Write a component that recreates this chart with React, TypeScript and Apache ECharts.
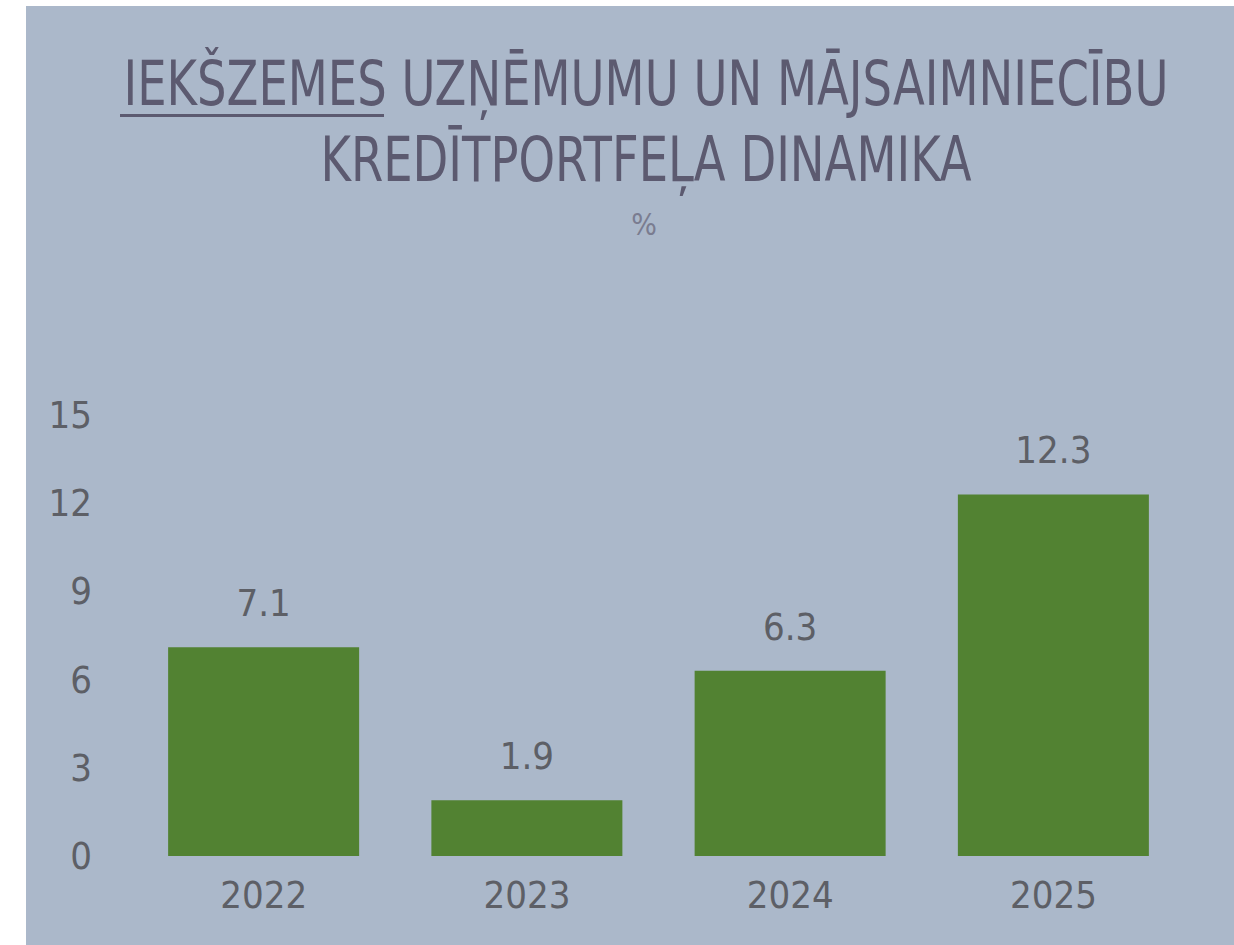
import React, { useEffect, useRef } from "react";
import * as echarts from "echarts";

const years = ["2022", "2023", "2024", "2025"];
const growth = [7.1, 1.9, 6.3, 12.3];
const titleLine1 = "IEKŠZEMES UZŅĒMUMU UN MĀJSAIMNIECĪBU";
const titleLine2 = "KREDĪTPORTFEĻA DINAMIKA";
const unitLabel = "%";

const FONT = "'DejaVu Sans Condensed', 'Liberation Sans', sans-serif";

export default function App() {
  const ref = useRef<HTMLDivElement>(null);
  useEffect(() => {
    document.body.style.margin = "0";
    const chart = echarts.init(ref.current!, null, { renderer: "svg" });
    chart.setOption({
      animation: false,
      backgroundColor: "#abb8ca",
      grid: { left: 106, right: 49, top: 409, bottom: 89 },
      xAxis: {
        type: "category",
        data: years,
        axisLine: { show: false },
        axisTick: { show: false },
        axisLabel: { color: "#5d5f66", fontSize: 38, fontFamily: FONT, margin: 20 },
      },
      yAxis: {
        type: "value",
        min: 0,
        max: 15,
        interval: 3,
        axisLine: { show: false },
        axisTick: { show: false },
        splitLine: { show: false },
        axisLabel: { color: "#5d5f66", fontSize: 38, fontFamily: FONT, margin: 40 },
      },
      series: [
        {
          type: "bar",
          data: growth,
          barWidth: 191,
          itemStyle: { color: "#528232" },
          label: {
            show: true,
            position: "top",
            distance: 25,
            color: "#5d5f66",
            fontSize: 38,
            fontFamily: FONT,
            formatter: (p: any) => p.value.toFixed(1),
          },
        },
      ],
      graphic: [
        {
          type: "text",
          x: 620,
          y: 78,
          scaleX: 0.82,
          style: {
            text: titleLine1,
            x: 0,
            y: 0,
            align: "center",
            verticalAlign: "middle",
            fontSize: 63,
            fontFamily: FONT,
            fill: "#5c5a70",
          },
        },
        {
          type: "text",
          x: 620,
          y: 154,
          scaleX: 0.82,
          style: {
            text: titleLine2,
            x: 0,
            y: 0,
            align: "center",
            verticalAlign: "middle",
            fontSize: 63,
            fontFamily: FONT,
            fill: "#5c5a70",
          },
        },
        {
          type: "rect",
          shape: { x: 94, y: 108, width: 264, height: 3 },
          style: { fill: "#5c5a70" },
        },
        {
          type: "text",
          x: 618,
          y: 218,
          style: {
            text: unitLabel,
            x: 0,
            y: 0,
            align: "center",
            verticalAlign: "middle",
            fontSize: 30,
            fontFamily: FONT,
            fill: "#7a7c90",
          },
        },
      ],
    });
    return () => chart.dispose();
  }, []);
  return (
    <div style={{ position: "absolute", left: 0, top: 0, width: 1234, height: 945, background: "#fff" }}>
      <div ref={ref} style={{ position: "absolute", left: 26, top: 6, width: 1208, height: 939 }} />
    </div>
  );
}
